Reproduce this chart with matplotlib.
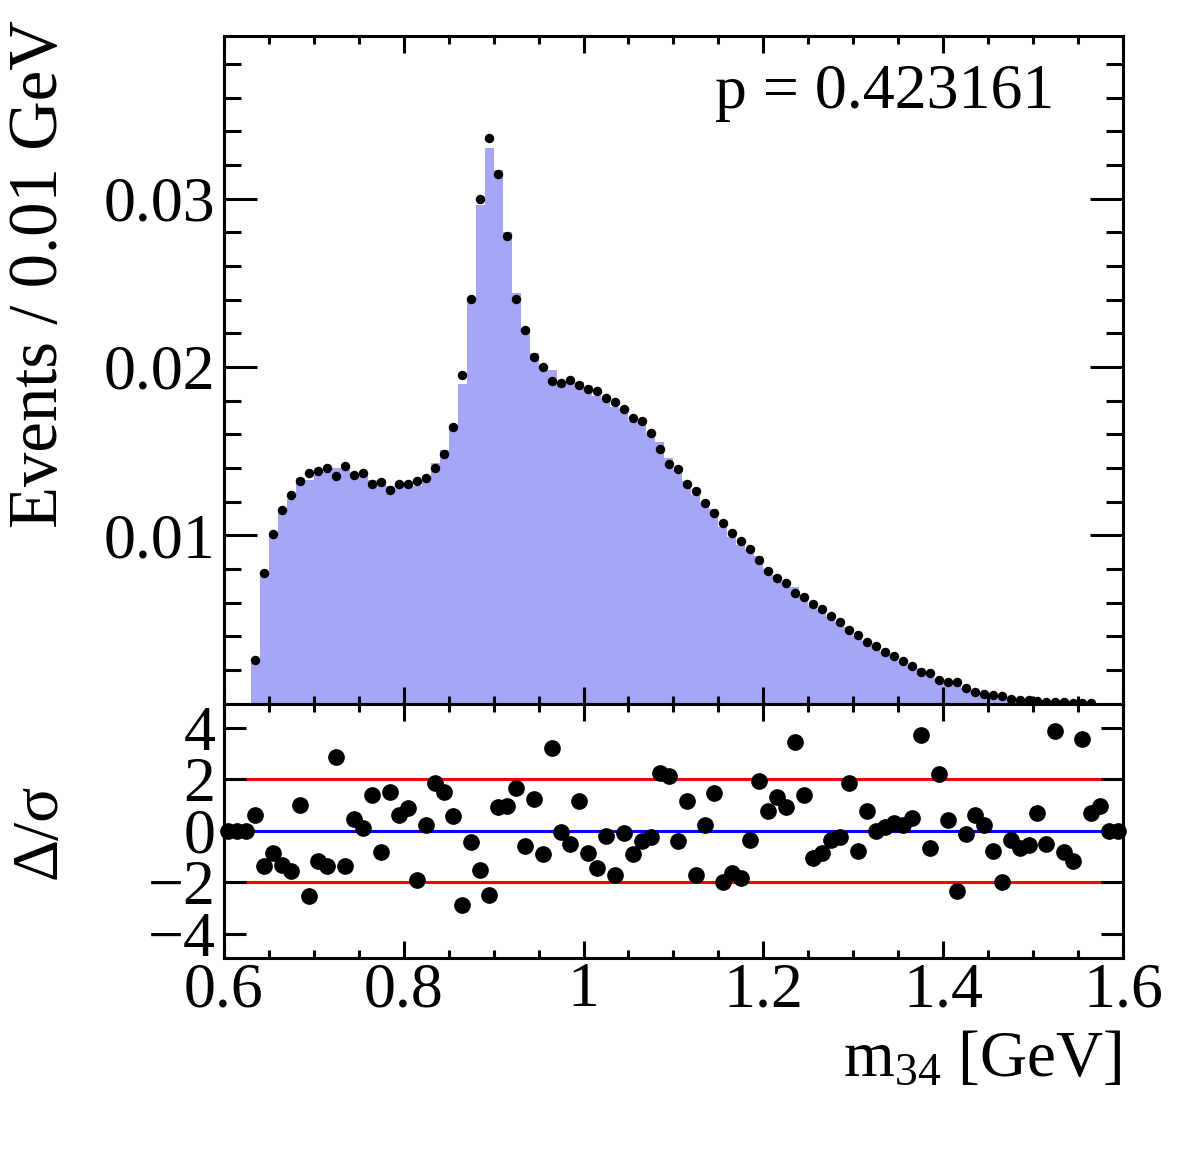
import numpy as np
import matplotlib
matplotlib.use("Agg")
import matplotlib.pyplot as plt
from matplotlib.ticker import MultipleLocator, FixedLocator, FuncFormatter

# binning of m34
x_lo, x_hi, n_bins = 0.6, 1.6, 100

# data points (events / 0.01 GeV), 100 bins
data = [
    0, 0, 0, 0.00256, 0.00778, 0.01009, 0.01152, 0.01240, 0.01323, 0.01369,
    0.01379, 0.01397, 0.01355, 0.01409, 0.01360, 0.01367, 0.01307, 0.01319, 0.01268, 0.01305,
    0.01305, 0.01321, 0.01342, 0.01397, 0.01480, 0.01646, 0.01954, 0.02406, 0.03000, 0.03362,
    0.03147, 0.02778, 0.02404, 0.02219, 0.02062, 0.02002, 0.01919, 0.01903, 0.01924, 0.01891,
    0.01870, 0.01857, 0.01815, 0.01792, 0.01750, 0.01697, 0.01679, 0.01607, 0.01515, 0.01425,
    0.01392, 0.01302, 0.01263, 0.01189, 0.01134, 0.01074, 0.01011, 0.00968, 0.00919, 0.00852,
    0.00787, 0.00748, 0.00714, 0.00654, 0.00632, 0.00593, 0.00564, 0.00519, 0.00485, 0.00436,
    0.00406, 0.00366, 0.00343, 0.00307, 0.00284, 0.00254, 0.00225, 0.00190, 0.00180, 0.00140,
    0.00130, 0.00125, 0.00095, 0.00071, 0.00057, 0.00053, 0.00045, 0.00028, 0.00022, 0.00018,
    0.00012, 0.00008, 0.00006, 0.00006, 0.00005, 0.00004, 0.00002, 0, 0, 0,
]

# fit model histogram
model = [
    0, 0, 0, 0.00260, 0.00762, 0.00997, 0.01132, 0.01216, 0.01339, 0.01329,
    0.01360, 0.01375, 0.01400, 0.01387, 0.01367, 0.01369, 0.01329, 0.01306, 0.01292, 0.01315,
    0.01319, 0.01291, 0.01346, 0.01427, 0.01505, 0.01656, 0.01899, 0.02397, 0.02964, 0.03300,
    0.03170, 0.02800, 0.02440, 0.02207, 0.02086, 0.01985, 0.01980, 0.01902, 0.01915, 0.01913,
    0.01854, 0.01830, 0.01812, 0.01761, 0.01748, 0.01681, 0.01672, 0.01603, 0.01553, 0.01460,
    0.01386, 0.01320, 0.01237, 0.01192, 0.01155, 0.01046, 0.00988, 0.00943, 0.00914, 0.00877,
    0.00797, 0.00764, 0.00725, 0.00692, 0.00647, 0.00582, 0.00555, 0.00515, 0.00483, 0.00453,
    0.00399, 0.00372, 0.00343, 0.00308, 0.00286, 0.00255, 0.00228, 0.00212, 0.00176, 0.00151,
    0.00132, 0.00114, 0.00094, 0.00073, 0.00058, 0.00051, 0.00039, 0.00027, 0.00021, 0.00017,
    0.00013, 0.00007, 0.00010, 0.00005, 0.00004, 0.00007, 0.00002, 0.00001, 0, 0,
]

# pulls Delta/sigma
pull = [
    0, 0, 0, 0.63, -1.35, -0.86, -1.34, -1.57, 1.01, -2.52,
    -1.15, -1.38, 2.85, -1.35, 0.46, 0.12, 1.39, -0.81, 1.52, 0.63,
    0.88, -1.91, 0.23, 1.85, 1.51, 0.57, -2.89, -0.43, -1.51, -2.49,
    0.93, 0.98, 1.68, -0.58, 1.23, -0.90, 3.20, -0.06, -0.50, 1.15,
    -0.86, -1.45, -0.19, -1.70, -0.10, -0.89, -0.41, -0.25, 2.26, 2.13,
    -0.40, 1.16, -1.70, 0.21, 1.45, -2.00, -1.64, -1.83, -0.37, 1.95,
    0.79, 1.33, 0.94, 3.43, 1.39, -1.05, -0.87, -0.37, -0.22, 1.85,
    -0.77, 0.77, 0.00, 0.14, 0.32, 0.21, 0.50, 3.73, -0.65, 2.21,
    0.43, -2.35, -0.13, 0.62, 0.23, -0.77, -1.99, -0.35, -0.65, -0.54,
    0.71, -0.50, 3.88, -0.80, -1.16, 3.55, 0.71, 0.97, 0, 0,
]

p_value = "0.423161"

plt.rcParams["font.family"] = ["Liberation Serif", "DejaVu Serif"]
plt.rcParams["mathtext.fontset"] = "custom"
plt.rcParams["mathtext.rm"] = "Liberation Serif"
plt.rcParams["mathtext.it"] = "Liberation Serif:italic"
plt.rcParams["font.size"] = 46
plt.rcParams["axes.unicode_minus"] = True

edges = np.linspace(x_lo, x_hi, n_bins + 1)
centers = 0.5 * (edges[:-1] + edges[1:])
data = np.array(data)
model = np.array(model)
pull = np.array(pull)

W, H = 1182, 1159
fig = plt.figure(figsize=(W / 100, H / 100), dpi=100)

left, right = 223.9 / W, 1122.9 / W
top_pix, mid_pix, bot_pix = 35.5, 703.5, 958.0
ax1 = fig.add_axes([left, 1 - mid_pix / H, right - left, (mid_pix - top_pix) / H])
ax2 = fig.add_axes([left, 1 - bot_pix / H, right - left, (bot_pix - mid_pix) / H])

lw = 2.2
for ax in (ax1, ax2):
    for s in ax.spines.values():
        s.set_linewidth(lw)
        s.set_zorder(2)
    ax.set_xlim(x_lo, x_hi)
    ax.xaxis.set_major_locator(MultipleLocator(0.2))
    ax.xaxis.set_minor_locator(MultipleLocator(0.05))
    ax.tick_params(axis="x", which="both", direction="in", top=True, bottom=True, width=lw)
    ax.tick_params(axis="x", which="major", length=12)
    ax.tick_params(axis="x", which="minor", length=6)
    ax.tick_params(axis="y", which="both", direction="in", left=True, right=True, width=lw)

# top panel: model histogram + data
ax1.stairs(model, edges, fill=True, color="#a6a6f8", linewidth=0, zorder=1)
m = data > 0
ax1.plot(centers[m], data[m], "o", color="black", ms=5.8, zorder=3)
ax1.set_ylim(0, 0.0397)
ax1.yaxis.set_major_locator(FixedLocator([0.01, 0.02, 0.03]))
ax1.yaxis.set_minor_locator(MultipleLocator(0.002))
ax1.tick_params(axis="y", which="major", length=24, pad=6)
ax1.tick_params(axis="y", which="minor", length=12)
ax1.yaxis.set_major_formatter(FuncFormatter(lambda v, p: "%g" % v))
ax1.tick_params(axis="x", labelbottom=False)

# pull panel
ax2.axhline(2, color="#ff0000", lw=lw, zorder=1)
ax2.axhline(-2, color="#ff0000", lw=lw, zorder=1)
ax2.axhline(0, color="#0000ff", lw=lw, zorder=1)
ax2.plot(centers, pull, "o", color="black", ms=11, zorder=4, clip_on=False)
ax2.set_ylim(-4.93, 4.94)
ax2.yaxis.set_major_locator(FixedLocator([-4, -2, 0, 2, 4]))
ax2.tick_params(axis="y", which="major", length=16, pad=6)
ax2.tick_params(axis="x", which="major", pad=3)
ax2.xaxis.set_major_formatter(FuncFormatter(lambda v, p: "%g" % round(v, 2)))

# texts
fig.text(715 / W, 1 - 108 / H, "p = " + p_value, ha="left", va="baseline", fontsize=46)
fig.text(40 / W, 1 - 20 / H, "Events / 0.01 GeV", rotation=90, ha="center", va="top", fontsize=49.5)
fig.text(40 / W, 1 - 831 / H, "Δ/σ", rotation=90, ha="center", va="center", fontsize=47)
fig.text(1122 / W, 1 - 1076 / H, r"m$_{\mathrm{34}}$ [GeV]", ha="right", va="baseline", fontsize=47)

fig.savefig("out.png", dpi=100)
